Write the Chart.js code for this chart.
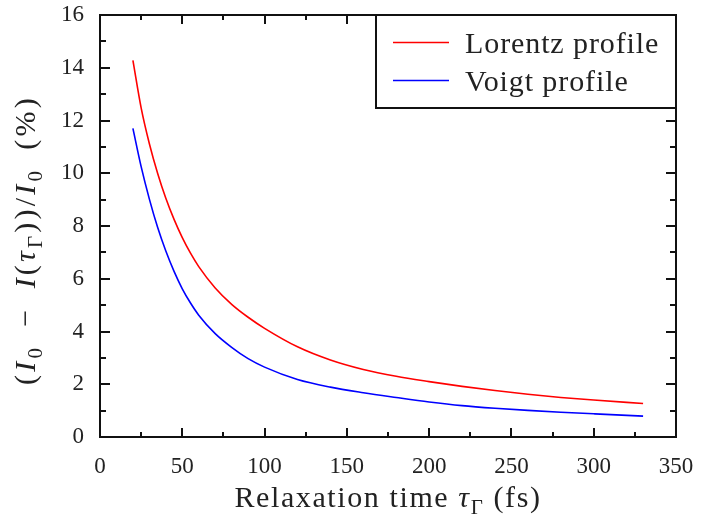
<!DOCTYPE html>
<html>
<head>
<meta charset="utf-8">
<script src="https://cdn.jsdelivr.net/npm/chart.js@4.4.0/dist/chart.umd.min.js"></script>
<style>
  html, body { margin: 0; padding: 0; background: #fff; }
  #wrap { width: 703px; height: 515px; }
</style>
</head>
<body>
<div id="wrap"><canvas id="chart"></canvas></div>
<script>
// relaxation time (fs)
const tau = [20, 25, 30, 35, 40, 45, 50, 55, 60, 70, 80, 90, 100, 120, 140, 160, 180, 200, 220, 240, 260, 280, 300, 330];
// (I0 - I(tau))/I0 in %
const lorentz = [14.28, 12.48, 11.12, 10.00, 9.05, 8.25, 7.56, 6.97, 6.46, 5.65, 5.03, 4.54, 4.12, 3.42, 2.92, 2.56, 2.30, 2.10, 1.92, 1.76, 1.62, 1.50, 1.40, 1.27];
const voigt = [11.70, 10.25, 9.02, 7.95, 7.05, 6.28, 5.62, 5.08, 4.62, 3.92, 3.40, 2.97, 2.65, 2.18, 1.89, 1.68, 1.50, 1.33, 1.19, 1.09, 1.01, 0.94, 0.88, 0.79];
const seriesNames = ['Lorentz profile', 'Voigt profile'];
const seriesColors = ['#ff0000', '#0000ff'];
const xRange = [0, 350];
const yRange = [0, 16];

const SERIF = '"Liberation Serif", "DejaVu Serif", serif';
const INK = '#222';

function toPoints(xs, ys) {
  return xs.map((x, i) => ({ x: x, y: ys[i] }));
}

// text made of parts: {t, it (italic), sub (subscript)}
function setPartFont(ctx, p, size) {
  const s = p.sub ? Math.round(size * 0.7) : size;
  ctx.font = (p.it ? 'italic ' : '') + s + 'px ' + SERIF;
}
function richWidth(ctx, parts, size) {
  let w = 0;
  parts.forEach(p => {
    setPartFont(ctx, p, size);
    w += ctx.measureText(p.t).width;
  });
  return w;
}
function drawRich(ctx, parts, x, y, size) {
  let cx = x - richWidth(ctx, parts, size) / 2;
  parts.forEach(p => {
    setPartFont(ctx, p, size);
    ctx.fillText(p.t, cx, p.sub ? y + size * 0.22 : y);
    cx += ctx.measureText(p.t).width;
  });
}

const framePlugin = {
  id: 'frame',
  afterDraw(chart) {
    const ctx = chart.ctx;
    const a = chart.chartArea;
    const xs = chart.scales.x;
    const ys = chart.scales.y;
    ctx.save();
    ctx.strokeStyle = '#111';
    ctx.lineWidth = 2;

    // inward ticks on all four sides
    ctx.beginPath();
    for (let v = xRange[0]; v <= xRange[1]; v += 25) {
      const len = v % 50 === 0 ? 9 : 5;
      const px = Math.round(xs.getPixelForValue(v));
      ctx.moveTo(px, a.bottom); ctx.lineTo(px, a.bottom - len);
      ctx.moveTo(px, a.top); ctx.lineTo(px, a.top + len);
    }
    for (let v = yRange[0]; v <= yRange[1]; v += 1) {
      const len = v % 2 === 0 ? 10 : 6;
      const py = Math.round(ys.getPixelForValue(v));
      ctx.moveTo(a.left, py); ctx.lineTo(a.left + len, py);
      ctx.moveTo(a.right, py); ctx.lineTo(a.right - len, py);
    }
    ctx.stroke();
    ctx.strokeRect(a.left, a.top, a.right - a.left, a.bottom - a.top);

    // legend in the upper right corner
    const bw = 300, bh = 93;
    const bx = a.right - bw, by = a.top;
    ctx.fillStyle = '#fff';
    ctx.fillRect(bx, by, bw, bh);
    ctx.strokeRect(bx, by, bw, bh);
    ctx.textBaseline = 'alphabetic';
    ctx.letterSpacing = '0.9px';
    ctx.font = '30px ' + SERIF;
    seriesNames.forEach((name, i) => {
      const ly = by + 27.5 + i * 38;
      ctx.strokeStyle = seriesColors[i];
      ctx.lineWidth = 1.6;
      ctx.beginPath();
      ctx.moveTo(bx + 17, ly); ctx.lineTo(bx + 73, ly);
      ctx.stroke();
      ctx.fillStyle = INK;
      ctx.fillText(name, bx + 89, ly + 10);
    });

    // axis titles
    ctx.fillStyle = INK;
    ctx.letterSpacing = '1.6px';
    drawRich(ctx, [
      { t: 'Relaxation time ' }, { t: '\u03c4', it: true }, { t: '\u0393', sub: true }, { t: ' (fs)' }
    ], (a.left + a.right) / 2, 507, 30);

    ctx.letterSpacing = '3.2px';
    ctx.translate(35, 240);
    ctx.rotate(-Math.PI / 2);
    drawRich(ctx, [
      { t: '(' }, { t: 'I', it: true }, { t: '0', sub: true }, { t: '\u2002\u2212\u2002' },
      { t: 'I', it: true }, { t: '(' }, { t: '\u03c4', it: true }, { t: '\u0393', sub: true },
      { t: '))/' }, { t: 'I', it: true }, { t: '0', sub: true }, { t: '\u2002(%)' }
    ], 0, 0, 30);
    ctx.restore();
  }
};

function noEdgePadding(scale) {
  scale.paddingTop = 0;
  scale.paddingBottom = 0;
  scale.paddingLeft = 0;
  scale.paddingRight = 0;
}

const ctx = document.getElementById('chart').getContext('2d');
const chart = new Chart(ctx, {
  type: 'scatter',
  data: {
    datasets: [
      {
        label: seriesNames[0],
        data: toPoints(tau, lorentz),
        showLine: true,
        borderColor: seriesColors[0],
        borderWidth: 1.6,
        pointRadius: 0,
        cubicInterpolationMode: 'monotone',
        fill: false
      },
      {
        label: seriesNames[1],
        data: toPoints(tau, voigt),
        showLine: true,
        borderColor: seriesColors[1],
        borderWidth: 1.6,
        pointRadius: 0,
        cubicInterpolationMode: 'monotone',
        fill: false
      }
    ]
  },
  options: {
    responsive: true,
    maintainAspectRatio: false,
    animation: false,
    layout: { padding: { left: 0, top: 15, right: 27, bottom: 0 } },
    plugins: {
      legend: { display: false },
      tooltip: { enabled: false }
    },
    scales: {
      x: {
        type: 'linear',
        min: xRange[0],
        max: xRange[1],
        grid: { display: false, drawTicks: false },
        border: { display: false },
        ticks: {
          stepSize: 50,
          padding: 16,
          color: INK,
          font: { family: SERIF, size: 23 }
        },
        afterFit: function (scale) { scale.height = 78; noEdgePadding(scale); }
      },
      y: {
        min: yRange[0],
        max: yRange[1],
        grid: { display: false, drawTicks: false },
        border: { display: false },
        ticks: {
          stepSize: 2,
          padding: 16,
          color: INK,
          font: { family: SERIF, size: 23 }
        },
        afterFit: function (scale) { scale.width = 100; noEdgePadding(scale); }
      }
    }
  },
  plugins: [framePlugin]
});
</script>
</body>
</html>
